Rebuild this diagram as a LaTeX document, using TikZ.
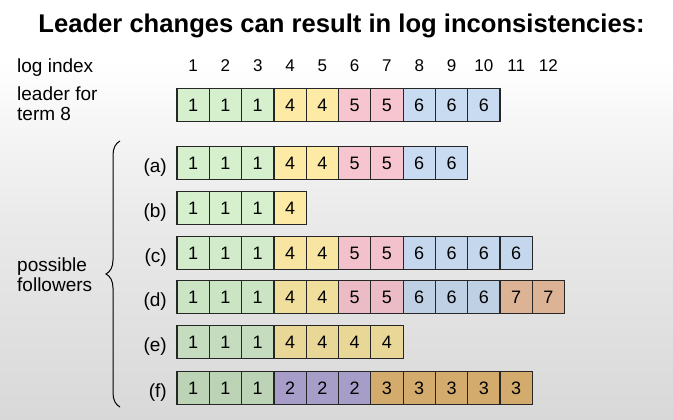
\documentclass[tikz,border=0pt]{standalone}
\usepackage{fontspec}
\setmainfont{Liberation Sans}
\usetikzlibrary{decorations.pathreplacing}

\definecolor{tone1}{RGB}{214,240,206}
\definecolor{tone2}{RGB}{190,178,228}
\definecolor{tone3}{RGB}{240,194,124}
\definecolor{tone4}{RGB}{253,234,165}
\definecolor{tone5}{RGB}{247,197,208}
\definecolor{tone6}{RGB}{201,219,241}
\definecolor{tone7}{RGB}{233,188,158}
\definecolor{bgbot}{RGB}{198,198,198}
\pgfdeclareverticalshading{bgshade}{100bp}{color(0bp)=(bgbot); color(50bp)=(black!8); color(68bp)=(white); color(100bp)=(white)}

\begin{document}
\begin{tikzpicture}[x=1pt, y=-1pt,
  cell/.style={draw=black!85, line width=1.2pt, minimum size=32.3pt, inner sep=0pt, font=\fontsize{18}{18}\selectfont},
  lbl/.style={font=\fontsize{19}{20}\selectfont, inner sep=0pt}]
% Fond
\shade[shading=bgshade] (0,0) rectangle (673,420);
% Titre
\node[font=\bfseries\fontsize{25.6}{26}\selectfont] (title) at (341.5,26) {Leader changes can result in log inconsistencies:};
% Index
\node[lbl, anchor=base west] (idx) at (17,72.5) {log index};
\foreach \i in {1,...,12} {
  \node[lbl, anchor=base, font=\fontsize{17}{17}\selectfont] (idx-\i) at (177+32.3*\i-16.15,71.5) {\i};
}
% Logs
\foreach \r/\y/\k/\terms in {lead/105/100/{1,1,1,4,4,5,5,6,6,6},
    a/163/100/{1,1,1,4,4,5,5,6,6}, b/208/100/{1,1,1,4},
    c/253/98/{1,1,1,4,4,5,5,6,6,6,6}, d/297/95/{1,1,1,4,4,5,5,6,6,6,7,7},
    e/342/92/{1,1,1,4,4,4,4}, f/388/88/{1,1,1,2,2,2,3,3,3,3,3}} {
  \foreach \t [count=\i] in \terms {
    \node[cell, fill=tone\t!\k!black] (cell-\r-\i) at (177+32.3*\i-16.15,\y) {\t};
  }
}
% Labels
\node[lbl, anchor=west, align=left] (lead) at (17,104) {leader for\\term 8};
\foreach \r/\y in {a/163,b/208,c/253,d/297,e/342,f/388} {
  \node[lbl, anchor=base east] (lbl-\r) at (167,\y+9.5) {(\r)};
}
\node[lbl, anchor=west, align=left] (foll) at (17,275) {possible\\followers};
% Accolade
\coordinate (br-top) at (120,141);
\coordinate (br-bot) at (120,407);
\draw[decorate, decoration={brace, amplitude=14pt}, line width=1pt] (br-bot) -- (br-top);
\end{tikzpicture}
\end{document}
